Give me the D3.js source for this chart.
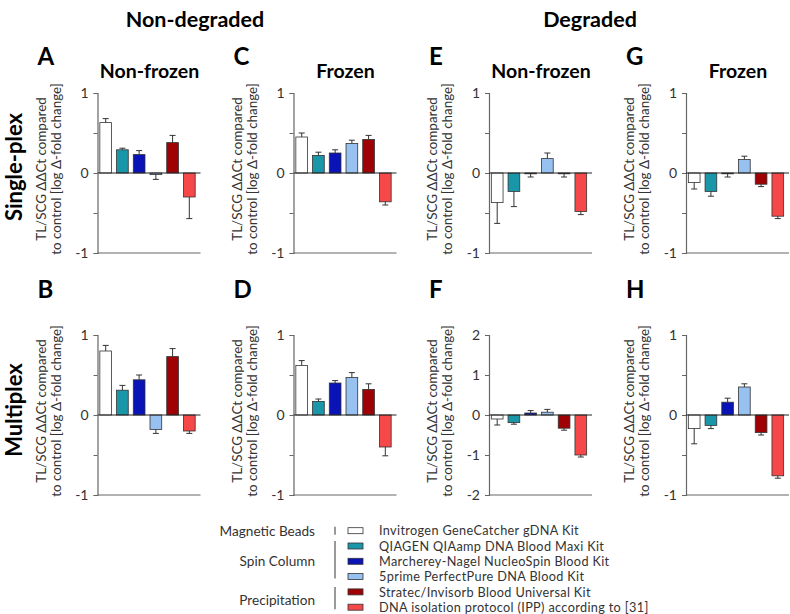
<!DOCTYPE html>
<html>
<head>
<meta charset="utf-8">
<script src="https://cdn.jsdelivr.net/npm/d3@7"></script>
<style>
  body { margin: 0; background: #fff; }
  svg text { font-family: Lato, "Open Sans", sans-serif; }
</style>
</head>
<body>
<div class="chart"></div>
<script>
// kits, in bar order
const kits = [
  "Invitrogen GeneCatcher gDNA Kit",
  "QIAGEN QIAamp DNA Blood Maxi Kit",
  "Marcherey-Nagel NucleoSpin Blood Kit",
  "5prime PerfectPure DNA Blood Kit",
  "Stratec/Invisorb Blood Universal Kit",
  "DNA isolation protocol (IPP) according to [31]",
];
const kitColors = ["#ffffff", "#1996a8", "#0a14b6", "#97c1f0", "#9e0204", "#f64749"];
const methodGroups = ["Magnetic Beads", "Spin Column", "Precipitation"];
const groupKitSpan = [[0, 0], [1, 3], [4, 5]];

const panelTitles = ["Non-frozen", "Frozen", "Non-frozen", "Frozen"];
const columnHeaders = ["Non-degraded", "Degraded"];
const rowLabels = ["Single-plex", "Multiplex"];

// mean log fold change and error (SEM) for each panel
const valuesA = [0.63, 0.29, 0.23, -0.02, 0.38, -0.30];
const errorsA = [0.05, 0.02, 0.05, 0.06, 0.09, 0.27];
const valuesC = [0.45, 0.22, 0.25, 0.37, 0.42, -0.36];
const errorsC = [0.05, 0.04, 0.04, 0.04, 0.05, 0.04];
const valuesE = [-0.37, -0.23, -0.01, 0.18, -0.01, -0.48];
const errorsE = [0.26, 0.19, 0.04, 0.07, 0.04, 0.04];
const valuesG = [-0.12, -0.23, -0.01, 0.17, -0.14, -0.54];
const errorsG = [0.08, 0.06, 0.04, 0.04, 0.03, 0.03];
const valuesB = [0.80, 0.31, 0.44, -0.18, 0.73, -0.20];
const errorsB = [0.07, 0.06, 0.06, 0.05, 0.10, 0.03];
const valuesD = [0.62, 0.17, 0.40, 0.47, 0.32, -0.40];
const errorsD = [0.06, 0.03, 0.03, 0.06, 0.07, 0.11];
const valuesF = [-0.10, -0.19, 0.05, 0.07, -0.33, -1.00];
const errorsF = [0.15, 0.04, 0.06, 0.07, 0.05, 0.05];
const valuesH = [-0.17, -0.13, 0.16, 0.35, -0.22, -0.76];
const errorsH = [0.19, 0.04, 0.05, 0.04, 0.03, 0.03];

const yDomainDefault = [-1, 1];
const yDomainF = [-2, 2];
const yTicksDefault = [-1, -0.5, 0, 0.5, 1];
const yTicksF = [-2, -1, 0, 1, 2];

const panels = [
  { letter: "A", values: valuesA, errors: errorsA, domain: yDomainDefault, ticks: yTicksDefault },
  { letter: "C", values: valuesC, errors: errorsC, domain: yDomainDefault, ticks: yTicksDefault },
  { letter: "E", values: valuesE, errors: errorsE, domain: yDomainDefault, ticks: yTicksDefault },
  { letter: "G", values: valuesG, errors: errorsG, domain: yDomainDefault, ticks: yTicksDefault },
  { letter: "B", values: valuesB, errors: errorsB, domain: yDomainDefault, ticks: yTicksDefault },
  { letter: "D", values: valuesD, errors: errorsD, domain: yDomainDefault, ticks: yTicksDefault },
  { letter: "F", values: valuesF, errors: errorsF, domain: yDomainF, ticks: yTicksF },
  { letter: "H", values: valuesH, errors: errorsH, domain: yDomainDefault, ticks: yTicksDefault },
];

const WIDTH = 790;
const HEIGHT = 614;
const COL_X = [97.5, 293.5, 489, 686];
const ROW_TOP = [93, 335];
const PLOT_H = 160;
const PLOT_W = 103;
const AXIS_COLOR = "#666";
const TEXT_COLOR = "#333";

const svg = d3.create("svg").attr("width", WIDTH).attr("height", HEIGHT);

// column headers
[195, 590].forEach((cx, i) => {
  svg.append("text")
    .attr("x", cx).attr("y", 27)
    .attr("text-anchor", "middle")
    .style("font-size", "21.5px").style("font-weight", "bold")
    .text(columnHeaders[i]);
});

// row labels
[167, 410].forEach((cy, i) => {
  svg.append("text")
    .attr("transform", `translate(22, ${cy}) rotate(-90)`)
    .attr("text-anchor", "middle")
    .style("font-size", "22px").style("font-weight", "bold")
    .text(rowLabels[i]);
});

panels.forEach((p, idx) => {
  const col = idx % 4;
  const row = Math.floor(idx / 4);
  const x0 = COL_X[col];
  const top = ROW_TOP[row];

  const g = svg.append("g").attr("transform", `translate(${x0}, ${top})`);

  const y = d3.scaleLinear().domain(p.domain).range([PLOT_H, 0]);
  const x = d3.scaleBand().domain(d3.range(kits.length))
    .range([1, PLOT_W - 4]).paddingInner(0.3).paddingOuter(0.08);

  // letter
  svg.append("text")
    .attr("x", x0 - 60).attr("y", top - (row === 0 ? 28 : 37))
    .style("font-size", "24px").style("font-weight", "bold")
    .text(p.letter);

  // subtitle (top row only)
  if (row === 0) {
    svg.append("text")
      .attr("x", x0 + 52).attr("y", top - 15)
      .attr("text-anchor", "middle")
      .style("font-size", "19.5px").style("font-weight", "bold")
      .text(panelTitles[col]);
  }

  // y axis title
  const yt = g.append("text")
    .attr("transform", `translate(-52, ${PLOT_H / 2 - 4}) rotate(-90)`)
    .attr("text-anchor", "middle")
    .style("font-size", "13.4px").style("fill", TEXT_COLOR);
  yt.append("tspan").attr("x", 0).attr("dy", 0).text("TL/SCG ΔΔCt compared");
  yt.append("tspan").attr("x", 0).attr("dy", 15).text("to control [log Δ-fold change]");

  // y axis
  const yAxis = d3.axisLeft(y)
    .tickValues(p.ticks)
    .tickSize(4)
    .tickPadding(5)
    .tickFormat(d => Number.isInteger(d) ? String(d) : "");
  const ya = g.append("g").call(yAxis);
  ya.select(".domain").attr("stroke", AXIS_COLOR).attr("stroke-width", 1.2);
  ya.selectAll(".tick line").attr("stroke", AXIS_COLOR);
  ya.selectAll(".tick text")
    .style("font-size", "14px").style("fill", TEXT_COLOR)
    .style("font-family", "Lato, sans-serif");

  // bottom axis line
  g.append("line")
    .attr("x1", 0).attr("x2", PLOT_W)
    .attr("y1", y(p.domain[0])).attr("y2", y(p.domain[0]))
    .attr("stroke", AXIS_COLOR).attr("stroke-width", 1.2);

  // bars
  g.append("g")
    .selectAll("rect")
    .data(p.values)
    .join("rect")
    .attr("x", (d, i) => x(i))
    .attr("width", x.bandwidth())
    .attr("y", d => y(Math.max(0, d)))
    .attr("height", d => Math.abs(y(d) - y(0)))
    .attr("fill", (d, i) => kitColors[i])
    .attr("stroke", "#333")
    .attr("stroke-width", 0.8);

  // error bars, drawn away from zero
  const errEnd = (d, i) => d + (d >= 0 ? p.errors[i] : -p.errors[i]);
  const eb = g.append("g").attr("stroke", "#333").attr("stroke-width", 1);
  eb.selectAll("line.v")
    .data(p.values)
    .join("line")
    .attr("class", "v")
    .attr("x1", (d, i) => x(i) + x.bandwidth() / 2)
    .attr("x2", (d, i) => x(i) + x.bandwidth() / 2)
    .attr("y1", d => y(d))
    .attr("y2", (d, i) => y(errEnd(d, i)));
  eb.selectAll("line.cap")
    .data(p.values)
    .join("line")
    .attr("class", "cap")
    .attr("x1", (d, i) => x(i) + x.bandwidth() / 2 - 3)
    .attr("x2", (d, i) => x(i) + x.bandwidth() / 2 + 3)
    .attr("y1", (d, i) => y(errEnd(d, i)))
    .attr("y2", (d, i) => y(errEnd(d, i)));

  // zero line
  g.append("line")
    .attr("x1", 0).attr("x2", PLOT_W)
    .attr("y1", y(0)).attr("y2", y(0))
    .attr("stroke", "#222").attr("stroke-width", 1);
});

// legend
const legend = svg.append("g");
const ROW_Y0 = 530.7;
const ROW_STEP = 15.3;
const SWATCH_X = 348;
const legendY = i => ROW_Y0 + i * ROW_STEP;

legend.selectAll("rect")
  .data(kits)
  .join("rect")
  .attr("x", SWATCH_X).attr("y", (d, i) => legendY(i) - 3)
  .attr("width", 15).attr("height", 6)
  .attr("fill", (d, i) => kitColors[i])
  .attr("stroke", "#333").attr("stroke-width", 0.8);

legend.selectAll("text.kit")
  .data(kits)
  .join("text")
  .attr("class", "kit")
  .attr("x", 379).attr("y", (d, i) => legendY(i) + 4.6)
  .style("font-size", "12.7px").style("letter-spacing", "0.35px")
  .style("fill", TEXT_COLOR)
  .text(d => d);

groupKitSpan.forEach(([a, b], i) => {
  const yTop = legendY(a) - (a === b ? 4 : 5);
  const yBot = legendY(b) + (a === b ? 4 : 2);
  legend.append("line")
    .attr("x1", 335).attr("x2", 335)
    .attr("y1", yTop).attr("y2", yBot)
    .attr("stroke", "#555").attr("stroke-width", 1.2);
  legend.append("text")
    .attr("x", 315).attr("y", (legendY(a) + legendY(b)) / 2 + 5)
    .attr("text-anchor", "end")
    .style("font-size", "13.6px").style("fill", TEXT_COLOR)
    .text(methodGroups[i]);
});

document.querySelector(".chart").append(svg.node());
</script>
</body>
</html>
